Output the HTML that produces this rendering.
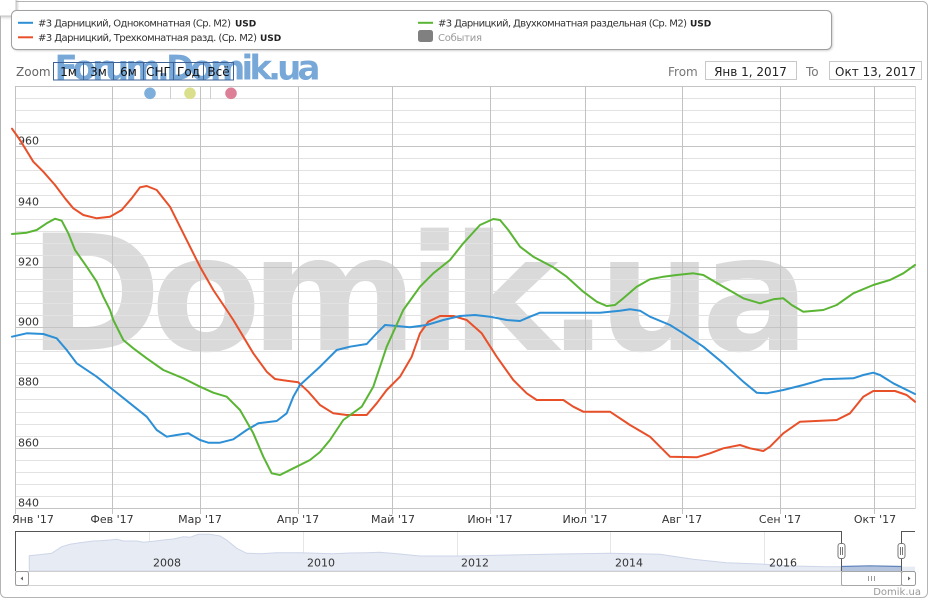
<!DOCTYPE html>
<html><head><meta charset="utf-8"><style>
html,body{margin:0;padding:0;background:#fff;}
svg{display:block;}
text{font-family:"DejaVu Sans","Liberation Sans",sans-serif;}
</style></head><body>
<svg width="931" height="600" viewBox="0 0 931 600" xmlns="http://www.w3.org/2000/svg">
<defs>
<filter id="sh" x="-5%" y="-20%" width="110%" height="150%"><feGaussianBlur stdDeviation="1.2"/></filter>
</defs>
<rect width="931" height="600" fill="#fff"/>
<!-- outer frame -->
<rect x="0.5" y="1.5" width="927" height="596" rx="5" fill="#fff" stroke="#b4b4b4"/>
<!-- top-left small box -->
<rect x="-2" y="-2" width="19" height="19" rx="4" fill="#888" opacity="0.35" filter="url(#sh)" transform="translate(1,1)"/>
<rect x="-3.5" y="-3.5" width="19.5" height="19.5" rx="4" fill="#fff" stroke="#c4c4c4"/>

<!-- legend -->
<rect x="12.5" y="11.5" width="820" height="39" rx="5" fill="#777" opacity="0.45" filter="url(#sh)"/>
<rect x="11.5" y="10.5" width="820" height="39" rx="5" fill="#fff" stroke="#a0a0a0"/>
<line x1="18" y1="22.8" x2="33" y2="22.8" stroke="#2d8fd5" stroke-width="2"/>
<text x="38" y="26.5" font-size="10" fill="#333" textLength="193">#3 Дарницкий, Однокомнатная (Ср. М2)</text>
<text x="235" y="26.5" font-size="9" font-weight="bold" fill="#222">USD</text>
<line x1="18" y1="37.3" x2="33" y2="37.3" stroke="#e8502a" stroke-width="2"/>
<text x="38" y="41" font-size="10" fill="#333" textLength="219">#3 Дарницкий, Трехкомнатная разд. (Ср. М2)</text>
<text x="260" y="41" font-size="9" font-weight="bold" fill="#222">USD</text>
<line x1="418" y1="22.8" x2="433" y2="22.8" stroke="#5ab534" stroke-width="2"/>
<text x="438" y="26.5" font-size="10" fill="#333" textLength="249">#3 Дарницкий, Двухкомнатная раздельная (Ср. М2)</text>
<text x="690" y="26.5" font-size="9" font-weight="bold" fill="#222">USD</text>
<rect x="418" y="30" width="15" height="12" rx="2.5" fill="#808080"/>
<text x="438" y="41" font-size="10" fill="#999" textLength="44">События</text>

<!-- big watermark -->
<text x="28" y="350" font-family="Liberation Sans, Arial, sans-serif" font-weight="bold" font-size="161" fill="#dadada" textLength="782">Domik.ua</text>

<!-- horizontal grid: minor -->
<g stroke="#e2e2e2" stroke-width="1">
<line x1="15" x2="915" y1="496.5" y2="496.5"/><line x1="15" x2="915" y1="484.5" y2="484.5"/><line x1="15" x2="915" y1="472.5" y2="472.5"/><line x1="15" x2="915" y1="460.5" y2="460.5"/>
<line x1="15" x2="915" y1="436.5" y2="436.5"/><line x1="15" x2="915" y1="424.5" y2="424.5"/><line x1="15" x2="915" y1="412.5" y2="412.5"/><line x1="15" x2="915" y1="399.5" y2="399.5"/>
<line x1="15" x2="915" y1="375.5" y2="375.5"/><line x1="15" x2="915" y1="363.5" y2="363.5"/><line x1="15" x2="915" y1="351.5" y2="351.5"/><line x1="15" x2="915" y1="339.5" y2="339.5"/>
<line x1="15" x2="915" y1="315.5" y2="315.5"/><line x1="15" x2="915" y1="303.5" y2="303.5"/><line x1="15" x2="915" y1="291.5" y2="291.5"/><line x1="15" x2="915" y1="279.5" y2="279.5"/>
<line x1="15" x2="915" y1="255.5" y2="255.5"/><line x1="15" x2="915" y1="243.5" y2="243.5"/><line x1="15" x2="915" y1="231.5" y2="231.5"/><line x1="15" x2="915" y1="219.5" y2="219.5"/>
<line x1="15" x2="915" y1="195.5" y2="195.5"/><line x1="15" x2="915" y1="183.5" y2="183.5"/><line x1="15" x2="915" y1="170.5" y2="170.5"/><line x1="15" x2="915" y1="158.5" y2="158.5"/>
<line x1="15" x2="915" y1="134.5" y2="134.5"/><line x1="15" x2="915" y1="122.5" y2="122.5"/><line x1="15" x2="915" y1="110.5" y2="110.5"/><line x1="15" x2="915" y1="98.5" y2="98.5"/>
</g>
<!-- major -->
<g stroke="#c4c4c4" stroke-width="1">
<line x1="15" x2="915" y1="448.5" y2="448.5"/><line x1="15" x2="915" y1="387.5" y2="387.5"/><line x1="15" x2="915" y1="327.5" y2="327.5"/>
<line x1="15" x2="915" y1="267.5" y2="267.5"/><line x1="15" x2="915" y1="207.5" y2="207.5"/><line x1="15" x2="915" y1="146.5" y2="146.5"/>
<line x1="15" x2="915" y1="86.5" y2="86.5"/><line x1="15" x2="915" y1="508.5" y2="508.5"/>
</g>
<!-- vertical month grid -->
<g stroke="#c2c2c2" stroke-width="1">
<line x1="15.5" x2="15.5" y1="86" y2="514"/><line x1="112.5" x2="112.5" y1="86" y2="514"/><line x1="200.5" x2="200.5" y1="86" y2="514"/>
<line x1="298.5" x2="298.5" y1="86" y2="514"/><line x1="392.5" x2="392.5" y1="86" y2="514"/><line x1="490.5" x2="490.5" y1="86" y2="514"/>
<line x1="585.5" x2="585.5" y1="86" y2="514"/><line x1="682.5" x2="682.5" y1="86" y2="514"/><line x1="780.5" x2="780.5" y1="86" y2="514"/>
<line x1="874.5" x2="874.5" y1="86" y2="514"/>
</g>
<line x1="915.5" x2="915.5" y1="86" y2="509" stroke="#d8d8d8"/>

<!-- y labels -->
<g font-size="11" fill="#333">
<text x="18" y="144.5">960</text><text x="18" y="205.5">940</text><text x="18" y="265.5">920</text>
<text x="18" y="325.5">900</text><text x="18" y="385.5">880</text><text x="18" y="446.5">860</text><text x="18" y="506.5">840</text>
</g>
<!-- x labels -->
<g font-size="11" fill="#333" text-anchor="middle">
<text x="12" y="523" text-anchor="start">Янв '17</text>
<text x="112" y="523">Фев '17</text><text x="200" y="523">Мар '17</text><text x="298" y="523">Апр '17</text>
<text x="393" y="523">Май '17</text><text x="490" y="523">Июн '17</text><text x="585" y="523">Июл '17</text>
<text x="682" y="523">Авг '17</text><text x="780" y="523">Сен '17</text><text x="875" y="523">Окт '17</text>
</g>

<!-- series -->
<g fill="none" stroke-width="2" stroke-linejoin="round" stroke-linecap="round">
<polyline stroke="#e8502a" points="12,128.7 20,140 33.3,161.7 43.3,171.7 55,185 65,198.3 73.3,208.3 83.3,215 96.7,218.3 110,216.7 121.7,210 131.7,198.3 140,187.3 146.7,186 156.7,190 170,206.7 183.3,233.3 200,266.7 213.3,290 226.7,310 233.3,320 253.3,353.3 266.7,371.7 275,379 286.7,380.7 298.3,382.3 308.3,391.7 320,405 333.3,413.3 346.7,415 366.7,415 376.7,403.3 386.7,390 400,376.7 411.7,356.7 420,333.3 428.3,321.7 440,316 453.3,316 466.7,320 481.7,333.3 496.7,356.7 513.3,380 526.7,393.3 536.7,400 563.3,400 573.3,406.7 583.3,411.7 610,411.7 630,425 650,436.7 660,446.7 670,456.7 696.7,457.3 710,453.3 723.3,448.3 740,445 750,448.3 763.3,451 770,446.7 783.3,433.3 800,421.7 836.7,420 850,413.3 863.3,396.7 873.3,391 895,391 906.7,395 915,401.7"/>
<polyline stroke="#2d8fd5" points="12,336.7 26.7,333.3 43.3,334 56.7,338.3 66.7,350 76.7,363.3 96.7,376.7 113.3,390 130,403.3 146.7,416.7 156.7,430 166.7,436.7 176.7,435 188.3,433.3 200,440 208.3,442.7 220,442.7 233.3,439.3 246.7,430 258.3,423.3 276.7,421 286.7,413.3 293.3,396.7 300,385 320,366.7 336.7,350 350,346.7 366.7,344 376.7,333.3 385,325 396.7,326 410,327.3 426.7,325 443.3,320 460,316 475,315 490,316.7 506.7,320 520,321 530,316.7 540,312.7 566.7,312.7 600,312.7 620,310.7 630,309.3 640,310.7 650,316.7 670,325 683.3,333.3 703.3,346.7 723.3,363.3 743.3,381.7 756.7,392.7 766.7,393.3 783.3,390 803.3,385 823.3,379.3 853.3,378.3 863.3,375 873.3,372.7 880,375 893.3,383.3 915,394"/>
<polyline stroke="#5ab534" points="12,234 26.7,232.7 36.7,230 46.7,223.3 55,218.7 61.7,220.7 68.3,233.3 75,250 86.7,266.7 96.7,281.7 103.3,296.7 110,310 113.3,320 123.3,340 133.3,348.3 146.7,358.3 163.3,370 183.3,378.3 200,386.7 213.3,392.7 226.7,396.7 240,410 253.3,433.3 263.3,456.7 271.7,473.3 280,475 293.3,468.3 300,465 310,460 320,452 330,440 343.3,420 361.7,406.7 373.3,386.7 386.7,346.7 403.3,310 420,286.7 433.3,273.3 450,260 463.3,243.3 480,225 493.3,219 500,220 508.3,230 520,246.7 533.3,256.7 553.3,267.3 566.7,276.7 583.3,291.7 596.7,301.7 606.7,306 615,305 623.3,298.3 636.7,286.7 650,279.3 663.3,276.7 676.7,275 693.3,273.3 703.3,275 723.3,286.7 743.3,298.3 760,303.3 773.3,299.3 783.3,298.3 791.7,305 803.3,311.7 823.3,310 836.7,305 853.3,293.3 873.3,285 890,280 903.3,273.3 915,265"/>
</g>

<!-- Forum.Domik.ua watermark -->
<text x="54.5" y="79.5" font-family="Liberation Sans, Arial, sans-serif" font-weight="bold" font-size="34" fill="#77a8d8" textLength="266">Forum.Domik.ua</text>

<!-- zoom controls -->
<text x="16" y="76" font-size="12" fill="#666">Zoom</text>
<g fill="none" stroke="#3f6296" stroke-width="1">
<rect x="53.5" y="62.5" width="30" height="17.5"/><rect x="83.5" y="62.5" width="30" height="17.5"/>
<rect x="113.5" y="62.5" width="30" height="17.5"/><rect x="143.5" y="62.5" width="30" height="17.5"/>
<rect x="173.5" y="62.5" width="30" height="17.5"/><rect x="203.5" y="62.5" width="30" height="17.5"/>
</g>
<g font-size="12" fill="#111" text-anchor="middle">
<text x="68.5" y="76">1м</text><text x="98.5" y="76">3м</text><text x="128.5" y="76">6м</text>
<text x="158.5" y="76">СНГ</text><text x="188.5" y="76">Год</text><text x="218.5" y="76">Всё</text>
</g>
<!-- dots -->
<circle cx="150" cy="93.3" r="5.8" fill="#7eaedb"/>
<line x1="170.5" x2="170.5" y1="87" y2="99" stroke="#cfcfcf"/>
<circle cx="190" cy="93.3" r="5.8" fill="#dadf8c"/>
<line x1="210.5" x2="210.5" y1="87" y2="99" stroke="#cfcfcf"/>
<circle cx="231" cy="93.3" r="5.8" fill="#dc7f97"/>

<!-- from / to -->
<text x="668" y="76" font-size="12" fill="#777">From</text>
<rect x="705.5" y="61.5" width="91" height="18" fill="#fff" stroke="#c8c8c8"/>
<text x="750.5" y="76" font-size="12" fill="#222" text-anchor="middle">Янв 1, 2017</text>
<text x="806" y="76" font-size="12" fill="#777">To</text>
<rect x="829.5" y="61.5" width="92" height="18" fill="#fff" stroke="#c8c8c8"/>
<text x="875.5" y="76" font-size="12" fill="#222" text-anchor="middle">Окт 13, 2017</text>

<!-- navigator -->
<g stroke="#e6e6e6">
<line x1="149.5" x2="149.5" y1="532" y2="571"/><line x1="303.5" x2="303.5" y1="532" y2="571"/>
<line x1="457.5" x2="457.5" y1="532" y2="571"/><line x1="610.5" x2="610.5" y1="532" y2="571"/>
<line x1="764.5" x2="764.5" y1="532" y2="571"/>
</g>
<path d="M29.3,571 L29.3,555.7 43.3,554.3 51.7,553.3 61.7,546.7 70,544.3 80,542.7 93.3,541 100,540.7 110,540 116.7,539.3 123.3,541 136.7,541 143.3,542.3 153.3,541.3 163.3,540 173.3,539 183.3,536.7 190,537.3 198.3,534.3 210,534.3 220,536 226.7,540 236.7,548.3 246.7,553.3 260,553.7 276.7,552.7 300,552.7 316.7,553.3 333.3,553.7 350,553 366.7,552.7 380,552.3 400,554 420,556 460,556 510,555 560,554 610,553.3 660,554.3 693,559.3 726.7,562.7 760,564 793,566 826.7,566.7 841,566.7 L841,571 Z" fill="#e7ebf4" stroke="#cdd5e8" stroke-width="1"/>
<path d="M841,571 L841,566.5 870,565.8 902,566.5 L902,571 Z" fill="#b4c4de" stroke="none"/>
<polyline points="841,566.5 870,565.8 902,566.5" fill="none" stroke="#5f84bb" stroke-width="1.2"/>
<path d="M902,571 L902,566.6 915,566.6 L915,571 Z" fill="#e7ebf4"/>
<g font-size="11" fill="#333">
<text x="153" y="566.5">2008</text><text x="307" y="566.5">2010</text><text x="461" y="566.5">2012</text>
<text x="615" y="566.5">2014</text><text x="769" y="566.5">2016</text>
</g>
<line x1="15" x2="915" y1="571.5" y2="571.5" stroke="#cfcfcf"/>
<path d="M15.5,571 L15.5,531.5 L841.5,531.5 L841.5,571" fill="none" stroke="#555"/>
<path d="M901.5,571 L901.5,531.5 L915,531.5" fill="none" stroke="#555"/>
<!-- handles -->
<rect x="838" y="543.5" width="7" height="15" rx="2.5" fill="#fff" stroke="#777"/>
<line x1="840.5" x2="840.5" y1="547" y2="555" stroke="#777"/><line x1="842.5" x2="842.5" y1="547" y2="555" stroke="#777"/>
<rect x="898" y="543.5" width="7" height="15" rx="2.5" fill="#fff" stroke="#777"/>
<line x1="900.5" x2="900.5" y1="547" y2="555" stroke="#777"/><line x1="902.5" x2="902.5" y1="547" y2="555" stroke="#777"/>

<!-- scrollbar -->
<line x1="15" x2="915" y1="585.5" y2="585.5" stroke="#d2d2d2"/>
<rect x="15.5" y="571.5" width="13" height="14" rx="2" fill="#fff" stroke="#9a9a9a"/>
<path d="M20.5,578.5 L23,576.5 L23,580.5 Z" fill="#666"/>
<rect x="841.5" y="571.5" width="60" height="14" rx="1.5" fill="#fff" stroke="#a8a8a8"/>
<g stroke="#999"><line x1="868.5" x2="868.5" y1="576" y2="581"/><line x1="871.5" x2="871.5" y1="576" y2="581"/><line x1="874.5" x2="874.5" y1="576" y2="581"/></g>
<rect x="901.5" y="571.5" width="14" height="14" rx="2" fill="#fff" stroke="#9a9a9a"/>
<path d="M910.5,578.5 L908,576.5 L908,580.5 Z" fill="#666"/>

<text x="921" y="595" font-size="10" fill="#999" text-anchor="end">Domik.ua</text>
</svg>
</body></html>
